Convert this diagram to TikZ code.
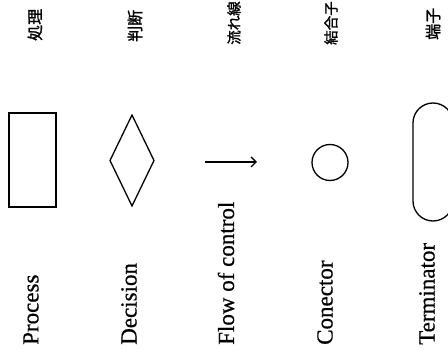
\documentclass[tikz,border=0pt]{standalone}
\usepackage{fontspec}
\setmainfont{Liberation Serif}[FakeBold=0.6]
\newfontfamily\jp{Noto Sans CJK JP}[FakeBold=1.5]
\usetikzlibrary{shapes.geometric,arrows.meta}
\begin{document}
\begin{tikzpicture}[x=1pt,y=-1pt,
  shapeline/.style={draw, line width=1.3pt, inner sep=0pt, outer sep=0pt},
  enlabel/.style={rotate=90, anchor=west, inner sep=0pt, font=\fontsize{23}{23}\selectfont},
  jplabel/.style={rotate=90, anchor=west, inner sep=0pt, font=\jp\fontsize{16}{16}\selectfont},
  jpsmall/.style={rotate=90, anchor=west, inner sep=0pt, font=\jp\fontsize{14.5}{14.5}\selectfont}]
\useasboundingbox (0,0) rectangle (448,350);
\clip (0,0) rectangle (448,350);
% Japanese labels (top)
\node[jplabel] (j1) at (35,41) {処理};
\node[jplabel] (j2) at (135,42) {判断};
\node[jpsmall] (j3) at (234,45) {流れ線};
\node[jpsmall] (j4) at (331,45) {結合子};
\node[jplabel] (j5) at (433,40) {端子};
% shapes
\node[shapeline, rectangle, minimum width=47pt, minimum height=94pt] (proc) at (32.5,160) {};
\node[shapeline, diamond, minimum width=44pt, minimum height=91pt] (dec) at (132,160.5) {};
\coordinate (fa) at (205,162);
\coordinate (fb) at (257,162);
\draw[line width=1.3pt, -{Straight Barb[length=5pt,width=10pt]}] (fa) -- (fb);
\node[shapeline, circle, minimum size=36pt] (con) at (330,162.5) {};
\node[shapeline, rectangle, rounded corners=20pt, minimum width=40pt, minimum height=118pt] (term) at (433,162) {};
% English labels (bottom)
\node[enlabel] (e1) at (31,345) {Process};
\node[enlabel] (e2) at (129,345) {Decision};
\node[enlabel] (e3) at (226,345) {Flow of control};
\node[enlabel] (e4) at (325,345) {Conector};
\node[enlabel] (e5) at (427,345) {Terminator};
\end{tikzpicture}
\end{document}
